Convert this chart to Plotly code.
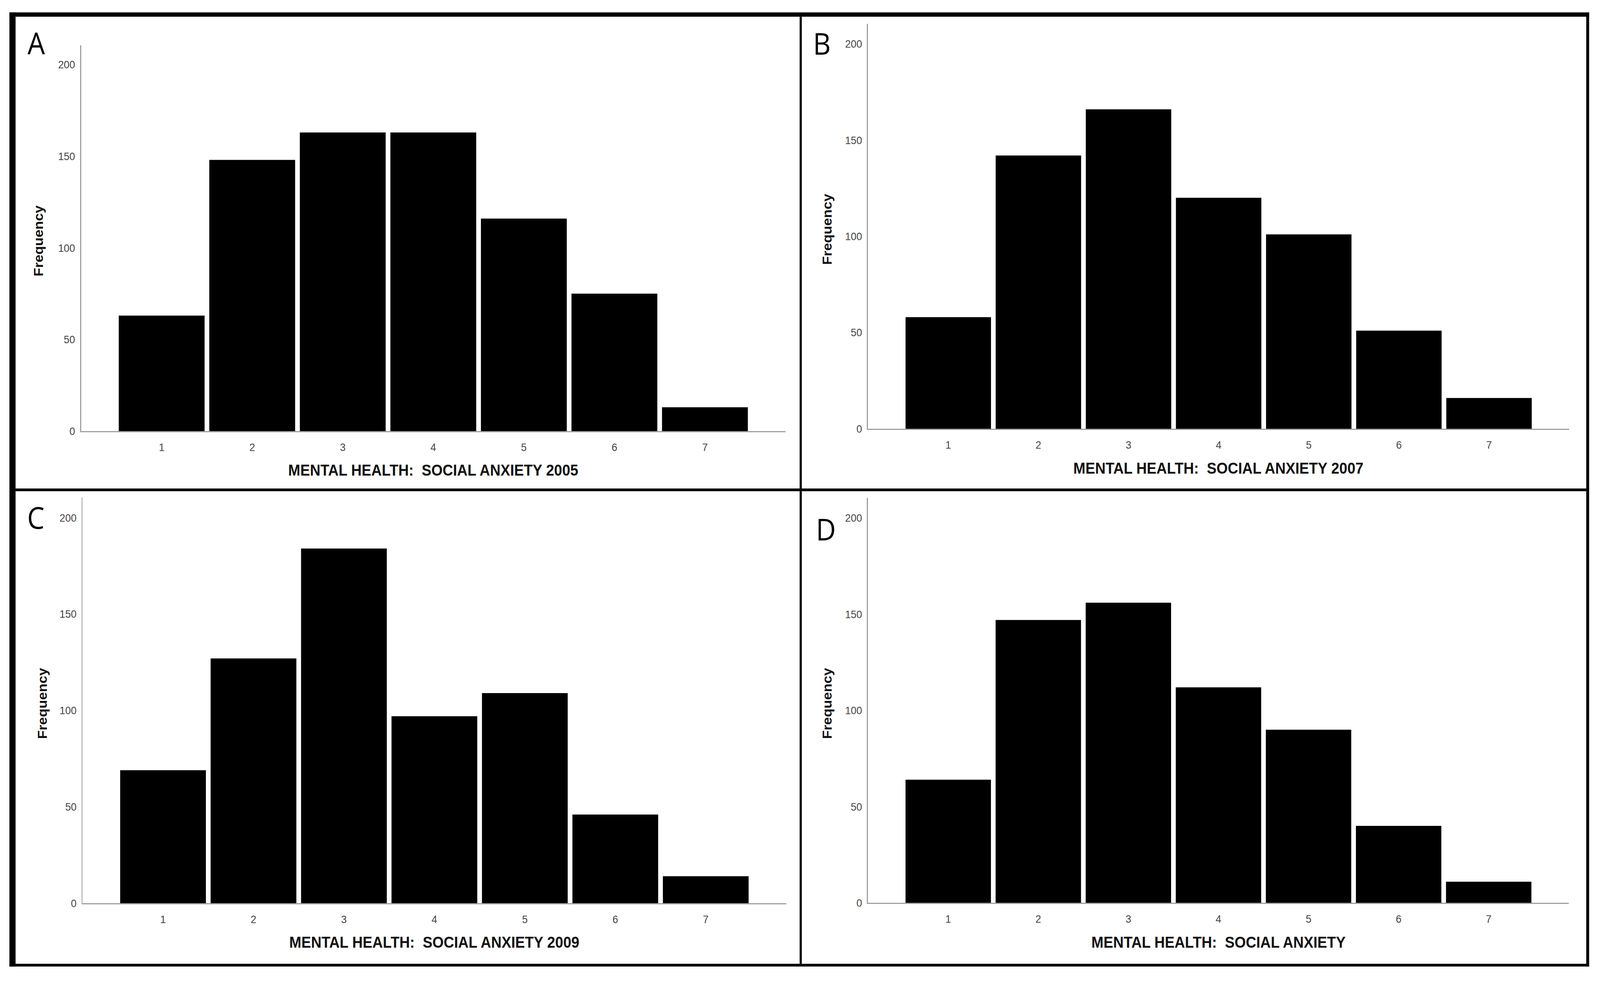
import plotly.graph_objects as go

W, H = 4420, 2520

categories = [1, 2, 3, 4, 5, 6, 7]
tick_labels = ["1", "2", "3", "4", "5", "6", "7"]
y_ticks = [0, 50, 100, 150, 200]

freq_2005 = [63, 148, 163, 163, 116, 75, 13]
freq_2007 = [58, 142, 166, 120, 101, 51, 16]
freq_2009 = [69, 127, 184, 97, 109, 46, 14]
freq_all = [64, 147, 156, 112, 90, 40, 11]

panel_letters = ["A", "B", "C", "D"]
x_titles = [
    "MENTAL HEALTH:\u00a0 SOCIAL ANXIETY 2005",
    "MENTAL HEALTH:\u00a0 SOCIAL ANXIETY 2007",
    "MENTAL HEALTH:\u00a0 SOCIAL ANXIETY 2009",
    "MENTAL HEALTH:\u00a0 SOCIAL ANXIETY",
]
y_title = "Frequency"
series = [freq_2005, freq_2007, freq_2009, freq_all]

# plot areas in pixels: (x_left, x_right, y_top, y_bottom)
areas = [
    (224, 2170, 117, 1111),
    (2398, 4335, 61, 1105),
    (228, 2172, 1282, 2328),
    (2398, 4334, 1283, 2327),
]
letter_pos = [(100, 110), (2270, 111), (99, 1333), (2281, 1363)]
freq_pos = [(106, 621), (2285, 591), (117, 1813), (2285, 1813)]
title_pos = [(1197, 1212), (3366, 1207), (1200, 2428), (3366, 2428)]


def px(x):
    return x / W


def py(y):
    return 1 - y / H


fig = go.Figure()
layout = dict(
    width=W, height=H, autosize=False,
    margin=dict(l=0, r=0, t=0, b=0),
    paper_bgcolor="white", plot_bgcolor="white",
    showlegend=False,
)

annotations = []
for i, vals in enumerate(series):
    n = i + 1
    xa = "x" if n == 1 else f"x{n}"
    ya = "y" if n == 1 else f"y{n}"
    fig.add_trace(go.Bar(
        x=categories, y=vals, width=[0.948] * len(categories),
        marker=dict(color="black", line=dict(width=0)),
        xaxis=xa, yaxis=ya, hoverinfo="x+y",
    ))
    xl, xr, yt, yb = areas[i]
    xkey = "xaxis" if n == 1 else f"xaxis{n}"
    ykey = "yaxis" if n == 1 else f"yaxis{n}"
    layout[xkey] = dict(
        domain=[px(xl), px(xr)], anchor=ya, range=[0.11, 7.89],
        tickvals=categories, ticktext=tick_labels,
        showline=True, linecolor="#a0a0a0", linewidth=3,
        showgrid=False, zeroline=False, ticks="",
        ticklabelstandoff=14,
        tickfont=dict(family="Liberation Sans", size=28, color="#444444"),
    )
    layout[ykey] = dict(
        domain=[py(yb), py(yt)], anchor=xa, range=[0, 210.5],
        tickvals=y_ticks,
        showline=True, linecolor="#a0a0a0", linewidth=3,
        showgrid=False, zeroline=False, ticks="",
        ticklabelstandoff=8,
        tickfont=dict(family="Liberation Sans", size=28, color="#444444"),
    )
    lx, ly = letter_pos[i]
    annotations.append(dict(
        text=panel_letters[i], x=px(lx), y=py(ly), xref="paper", yref="paper",
        xanchor="center", yanchor="middle", showarrow=False,
        font=dict(family="Open Sans", size=76, color="black"),
    ))
    fx, fy = freq_pos[i]
    annotations.append(dict(
        text=y_title, x=px(fx), y=py(fy), xref="paper", yref="paper",
        xanchor="center", yanchor="middle", showarrow=False, textangle=-90,
        font=dict(family="Liberation Sans", size=36, color="#111111", weight="bold"),
    ))
    tx, ty = title_pos[i]
    annotations.append(dict(
        text=x_titles[i], x=px(tx), y=py(ty), xref="paper", yref="paper",
        xanchor="center", yanchor="middle", showarrow=False,
        font=dict(family="Liberation Sans", size=40, color="#111111", weight="bold"),
    ))

# frame and dividers (pixel rectangles)
frame_rects = [
    (26, 43, 32, 2491),
    (4382, 4390, 32, 2491),
    (26, 4390, 32, 43),
    (26, 4390, 2484, 2491),
    (2209, 2215, 43, 2484),
    (43, 4382, 1259, 1266),
]
shapes = []
for x0, x1, y0, y1 in frame_rects:
    shapes.append(dict(
        type="rect", xref="paper", yref="paper",
        x0=px(x0), x1=px(x1), y0=py(y1), y1=py(y0),
        fillcolor="black", line=dict(width=0), layer="above",
    ))

layout["annotations"] = annotations
layout["shapes"] = shapes
fig.update_layout(**layout)

# fit the fixed-size figure exactly into whatever viewport the page gets
fit_script = """
(function(){
  document.documentElement.style.margin='0';
  document.documentElement.style.overflow='hidden';
  document.body.style.margin='0';
  document.body.style.overflow='hidden';
  var gd = document.getElementById('{plot_id}');
  function fit(){
    var sx = window.innerWidth / %d, sy = window.innerHeight / %d;
    gd.style.transformOrigin = '0 0';
    gd.style.transform = 'scale(' + sx + ',' + sy + ')';
  }
  fit();
  window.addEventListener('resize', fit);
})();
""" % (W, H)

fig.write_html(
    "out.html",
    post_script=fit_script,
    config={"responsive": False, "displayModeBar": False},
)
